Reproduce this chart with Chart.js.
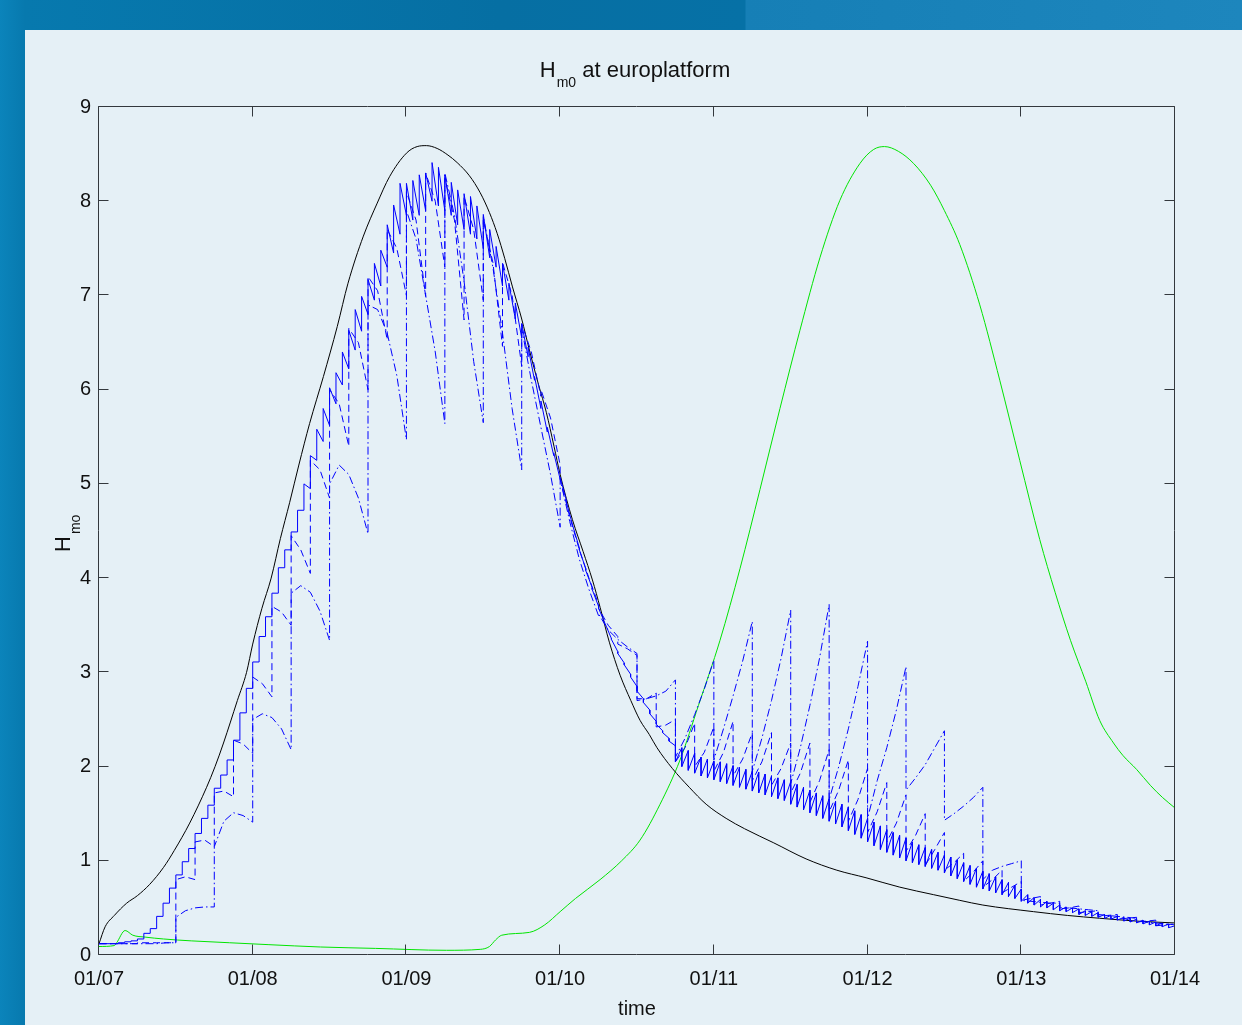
<!DOCTYPE html>
<html>
<head>
<meta charset="utf-8" />
<title>Hm0 at europlatform</title>
<script src="https://cdn.jsdelivr.net/npm/chart.js@4.4.1/dist/chart.umd.min.js"></script>
<style>
    html, body { margin: 0; padding: 0; width: 1242px; height: 1025px; overflow: hidden; }
    body {
        position: relative;
        background: linear-gradient(to right, #0b84bb 0px, #0779ae 25px, #066fa3 500px, #0671a6 745px, #167fb6 746px, #1d86bd 1242px);
    }
    #panel { position: absolute; left: 25px; top: 30px; right: 0; bottom: 0; background: #e5f0f6; }
    #chart { position: absolute; left: 0; top: 0; }
</style>
</head>
<body>
<div id="panel"></div>
<canvas id="chart" width="1242" height="1025"></canvas>

<script>
    // x axis: days since 01/07
    var dayLabels = ['01/07', '01/08', '01/09', '01/10', '01/11', '01/12', '01/13', '01/14'];

    // black: observed Hm0
    var blackT = [0, 0.04, 0.1, 0.18, 0.25, 0.33, 0.42, 0.49, 0.59, 0.7, 0.755, 0.81, 0.9, 0.96, 1.0, 1.06, 1.12, 1.18, 1.24, 1.3,
        1.37, 1.46, 1.55, 1.62, 1.72, 1.81, 1.89, 2.0, 2.07, 2.13, 2.2, 2.27, 2.33, 2.41, 2.48, 2.54, 2.59, 2.64, 2.69, 2.75,
        2.8, 2.86, 2.91, 2.96, 3.0, 3.08, 3.15, 3.21, 3.26, 3.32, 3.39, 3.46, 3.52, 3.58, 3.63, 3.73, 3.84, 3.95, 4.08, 4.2,
        4.39, 4.6, 4.8, 4.99, 5.21, 5.43, 5.6, 5.75, 6.08, 6.3, 6.51, 6.75, 7.0];
    var blackV = [0.12, 0.3, 0.42, 0.55, 0.63, 0.75, 0.93, 1.11, 1.4, 1.78, 2.0, 2.25, 2.7, 3.0, 3.3, 3.68, 4.0, 4.42, 4.8, 5.2,
        5.64, 6.14, 6.67, 7.13, 7.63, 7.98, 8.26, 8.51, 8.58, 8.59, 8.56, 8.49, 8.41, 8.27, 8.09, 7.88, 7.66, 7.39, 7.09, 6.75,
        6.42, 6.05, 5.76, 5.4, 5.1, 4.62, 4.28, 3.98, 3.69, 3.32, 2.97, 2.7, 2.49, 2.34, 2.2, 1.98, 1.78, 1.6, 1.45, 1.34,
        1.19, 1.02, 0.9, 0.82, 0.72, 0.64, 0.58, 0.53, 0.46, 0.42, 0.39, 0.36, 0.34];

    // green: model without assimilation
    var greenT = [0, 0.1, 0.115, 0.17, 0.22, 0.3, 0.42, 0.6, 0.85, 1.1, 1.44, 1.8, 2.26, 2.48, 2.54, 2.58, 2.62, 2.8, 2.9, 3.0,
        3.1, 3.26, 3.4, 3.52, 3.65, 3.78, 3.9, 4.04, 4.17, 4.3, 4.43, 4.56, 4.69, 4.82, 4.95, 5.04, 5.11, 5.2, 5.3, 5.41,
        5.5, 5.6, 5.73, 5.86, 5.99, 6.12, 6.22, 6.32, 6.42, 6.51, 6.6, 6.66, 6.75, 6.84, 6.92, 7.0];
    var greenV = [0.09, 0.1, 0.13, 0.26, 0.21, 0.19, 0.17, 0.15, 0.13, 0.11, 0.085, 0.07, 0.05, 0.06, 0.09, 0.16, 0.21, 0.24, 0.32, 0.46,
        0.6, 0.8, 1.0, 1.22, 1.6, 2.07, 2.65, 3.34, 4.1, 4.94, 5.8, 6.63, 7.4, 8.01, 8.4, 8.55, 8.58, 8.53, 8.4, 8.17,
        7.9, 7.54, 6.9, 6.1, 5.25, 4.41, 3.85, 3.34, 2.9, 2.49, 2.25, 2.12, 1.97, 1.8, 1.67, 1.56];

    // blue solid: hourly update, value just after each update and just before the next
    var solidStart = [
        0.12, 0.12, 0.12, 0.13, 0.14, 0.15, 0.17, 0.23,
        0.28, 0.41, 0.55, 0.71, 0.85, 0.99, 1.13, 1.29,
        1.45, 1.59, 1.77, 1.91, 2.07, 2.28, 2.57, 2.83,
        3.11, 3.38, 3.59, 3.84, 4.11, 4.30, 4.49, 4.72,
        5.00, 5.30, 5.58, 5.80, 6.02, 6.18, 6.40, 6.63,
        6.85, 6.99, 7.17, 7.34, 7.48, 7.75, 7.96, 8.19,
        8.19, 8.22, 8.28, 8.30, 8.41, 8.36, 8.28, 8.20,
        8.12, 8.08, 8.05, 7.95, 7.86, 7.70, 7.52, 7.34,
        7.13, 6.92, 6.70, 6.45, 6.14, 5.88, 5.60, 5.33,
        5.07, 4.80, 4.55, 4.30, 4.08, 3.88, 3.68, 3.52,
        3.35, 3.20, 3.08, 2.95, 2.80, 2.68, 2.56, 2.45,
        2.36, 2.27, 2.05, 2.00, 1.96, 1.93, 1.90, 1.88,
        1.86, 1.84, 1.82, 1.80, 1.78, 1.76, 1.74, 1.72,
        1.70, 1.68, 1.66, 1.64, 1.60, 1.57, 1.54, 1.51,
        1.48, 1.45, 1.42, 1.39, 1.36, 1.32, 1.28, 1.24,
        1.20, 1.16, 1.12, 1.09, 1.06, 1.03, 1.00, 0.98,
        0.96, 0.94, 0.92, 0.90, 0.87, 0.84, 0.81, 0.78,
        0.75, 0.72, 0.70, 0.68, 0.66, 0.64, 0.62, 0.60,
        0.57, 0.55, 0.53, 0.51, 0.50, 0.48, 0.47, 0.46,
        0.45, 0.43, 0.42, 0.41, 0.40, 0.39, 0.38, 0.37,
        0.36, 0.35, 0.34, 0.33, 0.32, 0.31, 0.30, 0.29];
    var solidEnd = [
        0.12, 0.12, 0.12, 0.13, 0.14, 0.15, 0.17, 0.23,
        0.28, 0.41, 0.55, 0.71, 0.85, 0.99, 1.13, 1.29,
        1.45, 1.59, 1.77, 1.91, 2.07, 2.28, 2.57, 2.83,
        3.11, 3.38, 3.59, 3.84, 4.11, 4.30, 4.49, 4.72,
        4.95, 5.25, 5.45, 5.62, 5.85, 6.05, 6.22, 6.42,
        6.62, 6.80, 6.95, 7.10, 7.30, 7.45, 7.65, 7.85,
        7.80, 7.85, 7.90, 8.00, 7.95, 7.90, 7.85, 7.75,
        7.70, 7.65, 7.60, 7.50, 7.40, 7.30, 7.10, 6.95,
        6.75, 6.55, 6.35, 6.10, 5.80, 5.55, 5.30, 5.05,
        4.82, 4.55, 4.32, 4.10, 3.90, 3.70, 3.52, 3.36,
        3.22, 3.10, 2.98, 2.85, 2.72, 2.60, 2.48, 2.38,
        2.30, 2.22, 2.20, 2.17, 2.14, 2.10, 2.08, 2.06,
        2.05, 2.03, 2.01, 1.99, 1.97, 1.95, 1.94, 1.92,
        1.90, 1.88, 1.86, 1.84, 1.81, 1.78, 1.75, 1.72,
        1.69, 1.66, 1.63, 1.60, 1.57, 1.53, 1.49, 1.45,
        1.41, 1.37, 1.33, 1.30, 1.27, 1.24, 1.20, 1.17,
        1.14, 1.12, 1.09, 1.06, 1.04, 1.01, 0.98, 0.95,
        0.92, 0.89, 0.86, 0.83, 0.80, 0.77, 0.74, 0.70,
        0.64, 0.61, 0.59, 0.57, 0.55, 0.53, 0.51, 0.50,
        0.49, 0.47, 0.46, 0.45, 0.43, 0.42, 0.41, 0.40,
        0.39, 0.38, 0.37, 0.36, 0.35, 0.34, 0.33, 0.31];

    // blue dashed: 3-hourly update (start, middle, end of each cycle)
    var dashStart = [0.12, 0.12, 0.13, 0.13, 0.80, 1.20, 1.72, 2.28, 2.95, 3.70, 4.45, 5.25, 6.00, 6.65, 7.20, 7.70,
        8.10, 8.30, 8.25, 8.05, 7.80, 7.35, 6.70, 6.00, 5.05, 4.30, 3.68, 3.30, 2.72, 2.42, 2.05, 2.00,
        1.95, 1.90, 1.85, 1.80, 1.72, 1.62, 1.52, 1.42, 1.30, 1.20, 1.10, 0.95, 0.90, 0.78, 0.72, 0.66,
        0.58, 0.53, 0.49, 0.45, 0.41, 0.38, 0.35, 0.31];
    var dashMid = [0.12, 0.12, 0.13, 0.13, 0.83, 1.22, 1.74, 2.24, 2.88, 3.64, 4.30, 5.15, 5.85, 6.50, 7.05, 7.50,
        7.80, 8.00, 7.80, 7.70, 7.35, 7.00, 6.40, 5.70, 4.65, 4.00, 3.50, 3.25, 2.72, 2.44, 2.20, 2.15,
        2.15, 2.08, 2.05, 1.98, 1.93, 1.85, 1.75, 1.65, 1.52, 1.40, 1.27, 1.12, 0.98, 0.88, 0.80, 0.72,
        0.60, 0.55, 0.50, 0.46, 0.42, 0.39, 0.36, 0.32];
    var dashEnd = [0.12, 0.12, 0.13, 0.13, 0.80, 1.15, 1.68, 2.14, 2.74, 3.50, 4.05, 4.85, 5.40, 6.00, 6.53, 7.00,
        6.99, 7.30, 6.74, 6.95, 6.46, 6.25, 5.93, 5.20, 4.30, 3.72, 3.38, 3.18, 2.78, 2.50, 2.46, 2.42,
        2.48, 2.36, 2.36, 2.25, 2.25, 2.18, 2.07, 1.98, 1.83, 1.70, 1.50, 1.30, 1.08, 1.00, 0.90, 0.78,
        0.62, 0.57, 0.52, 0.47, 0.43, 0.40, 0.37, 0.33];

    // blue dash-dot: 6-hourly update (values at quarters of each cycle)
    var dotQ0 = [0.12, 0.12, 0.40, 1.15, 2.50, 3.84, 5.00, 6.90, 7.90, 8.30, 7.84, 6.65, 5.05, 3.62, 2.70, 2.10, 2.07, 1.95, 1.82, 1.65, 1.45, 1.75, 1.43, 0.80, 0.58, 0.50, 0.43, 0.36];
    var dotQ1 = [0.12, 0.12, 0.47, 1.42, 2.56, 3.92, 5.20, 6.85, 7.60, 7.85, 7.30, 6.10, 4.60, 3.45, 2.72, 2.30, 2.40, 2.30, 2.20, 2.00, 1.85, 1.88, 1.50, 0.90, 0.57, 0.50, 0.42, 0.35];
    var dotQ2 = [0.12, 0.12, 0.50, 1.51, 2.52, 3.85, 5.10, 6.60, 7.00, 7.15, 6.60, 5.60, 4.20, 3.35, 2.75, 2.55, 2.75, 2.70, 2.65, 2.40, 2.20, 2.02, 1.58, 0.94, 0.56, 0.49, 0.41, 0.34];
    var dotQ3 = [0.12, 0.13, 0.51, 1.48, 2.40, 3.65, 4.85, 6.15, 6.40, 6.30, 5.80, 5.10, 3.88, 3.27, 2.80, 2.82, 3.12, 3.15, 3.15, 2.85, 2.60, 2.20, 1.67, 0.97, 0.55, 0.48, 0.40, 0.33];
    var dotQ4 = [0.12, 0.13, 0.51, 1.41, 2.18, 3.34, 4.47, 5.47, 5.64, 5.65, 5.15, 4.54, 3.60, 3.20, 2.92, 3.13, 3.54, 3.66, 3.72, 3.33, 3.06, 2.38, 1.78, 1.00, 0.55, 0.47, 0.39, 0.32];

    var FONT = "'Liberation Sans', Arial, Helvetica, sans-serif";

    function pairs(t, v) {
        return t.map(function (x, i) { return { x: x, y: v[i] }; });
    }

    // one cycle after another, each cycle given by its values at equal steps
    function cycles(len, cols) {
        var pts = [];
        var n = cols.length - 1;
        for (var k = 0; k < cols[0].length; k++) {
            for (var j = 0; j <= n; j++) {
                pts.push({ x: (k + j / n) * len, y: cols[j][k] });
            }
        }
        return pts;
    }

    // box and inward ticks, matlab style
    var framePlugin = {
        id: 'frame',
        afterDatasetsDraw: function (chart) {
            var ctx = chart.ctx, a = chart.chartArea;
            var xs = chart.scales.x, ys = chart.scales.y;
            var l = Math.round(a.left) - 0.5, r = Math.round(a.right) - 0.5;
            var t = Math.round(a.top) - 0.5, b = Math.round(a.bottom) - 0.5;
            ctx.save();
            ctx.strokeStyle = '#33383d';
            ctx.lineWidth = 1;
            ctx.beginPath();
            ctx.rect(l, t, r - l, b - t);
            for (var v = 0; v <= 9; v++) {
                var y = Math.round(ys.getPixelForValue(v)) - 0.5;
                ctx.moveTo(l, y); ctx.lineTo(l + 10, y);
                ctx.moveTo(r, y); ctx.lineTo(r - 10, y);
            }
            for (var d = 0; d <= 7; d++) {
                var x = Math.round(xs.getPixelForValue(d)) - 0.5;
                ctx.moveTo(x, b); ctx.lineTo(x, b - 10);
                ctx.moveTo(x, t); ctx.lineTo(x, t + 10);
            }
            ctx.stroke();
            ctx.restore();
        },
        afterDraw: function (chart) {
            var ctx = chart.ctx;
            ctx.save();
            ctx.fillStyle = '#111';
            ctx.textBaseline = 'alphabetic';

            // title: H_m0 at europlatform
            var big = '22px ' + FONT, small = '14px ' + FONT;
            ctx.font = big;
            var wH = ctx.measureText('H').width;
            var rest = ' at europlatform';
            var wR = ctx.measureText(rest).width;
            ctx.font = small;
            var wS = ctx.measureText('m0').width;
            var x0 = 635 - (wH + 1 + wS + wR) / 2;
            ctx.font = big;
            ctx.fillText('H', x0, 77);
            ctx.fillText(rest, x0 + wH + 1 + wS, 77);
            ctx.font = small;
            ctx.fillText('m0', x0 + wH + 1, 87);

            // y label: H_mo, rotated
            ctx.translate(69.5, 552);
            ctx.rotate(-Math.PI / 2);
            ctx.font = big;
            ctx.fillText('H', 0, 0);
            ctx.font = small;
            ctx.fillText('mo', wH + 2, 10);
            ctx.restore();
        }
    };

    var tickFont = { family: FONT, size: 20 };

    new Chart(document.getElementById('chart'), {
        type: 'line',
        data: {
            datasets: [
                { label: 'solid', data: cycles(1 / 24, [solidStart, solidEnd]), borderColor: '#0000ff' },
                { label: 'dashed', data: cycles(1 / 8, [dashStart, dashMid, dashEnd]), borderColor: '#0000ff', borderDash: [7, 4] },
                { label: 'dashdot', data: cycles(1 / 4, [dotQ0, dotQ1, dotQ2, dotQ3, dotQ4]), borderColor: '#0000ff', borderDash: [8, 3, 1.5, 3] },
                { label: 'black', data: pairs(blackT, blackV), borderColor: '#000000', cubicInterpolationMode: 'monotone' },
                { label: 'green', data: pairs(greenT, greenV), borderColor: '#00e400', cubicInterpolationMode: 'monotone' }
            ]
        },
        options: {
            responsive: false,
            animation: false,
            devicePixelRatio: 1,
            layout: { padding: { top: 107, right: 67, left: 0, bottom: 0 } },
            plugins: {
                legend: { display: false },
                tooltip: { enabled: false },
                title: { display: false }
            },
            elements: {
                point: { radius: 0 },
                line: { tension: 0, borderWidth: 1, fill: false }
            },
            scales: {
                x: {
                    type: 'linear', min: 0, max: 7,
                    grid: { display: false, drawTicks: false },
                    border: { display: false },
                    ticks: {
                        stepSize: 1, padding: 12, color: '#111', font: tickFont,
                        maxRotation: 0, autoSkip: false,
                        callback: function (v) { return dayLabels[v]; }
                    },
                    title: { display: true, text: 'time', color: '#111', font: tickFont, padding: { top: 0, bottom: 4 } },
                    afterFit: function (s) { s.height = 70; }
                },
                y: {
                    min: 0, max: 9,
                    grid: { display: false, drawTicks: false },
                    border: { display: false },
                    ticks: { stepSize: 1, padding: 8, color: '#111', font: tickFont },
                    afterFit: function (s) { s.width = 99; }
                }
            }
        },
        plugins: [framePlugin]
    });
</script>
</body>
</html>
